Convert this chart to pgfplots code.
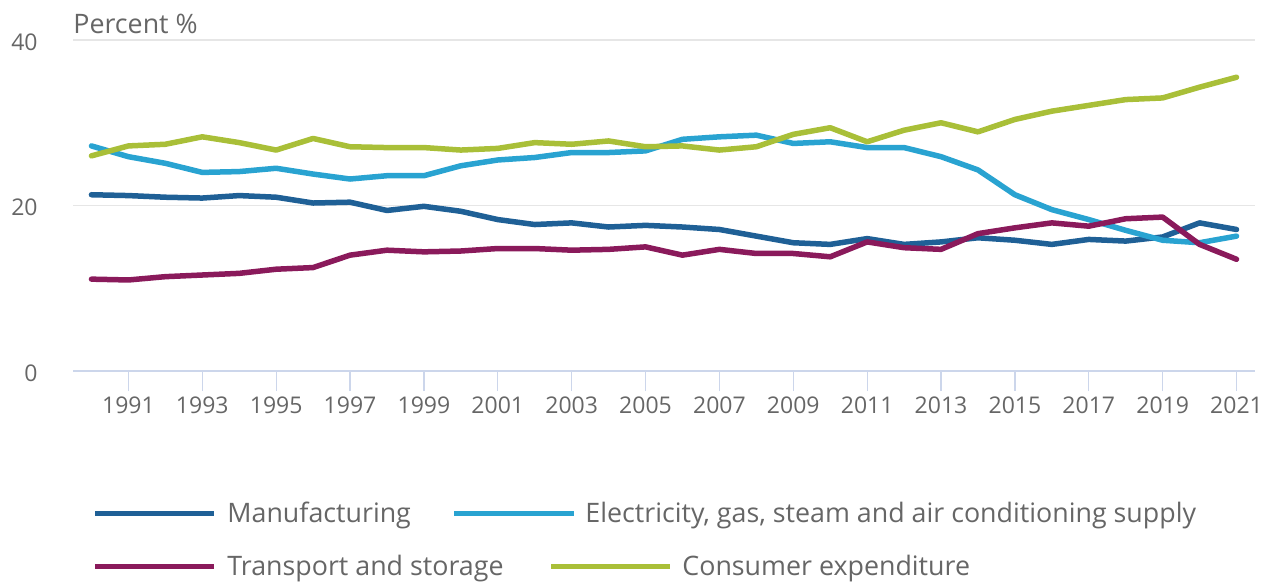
\documentclass[border=0pt]{standalone}
\usepackage{fontspec}
\setmainfont{Open Sans}
\usepackage{pgfplots}
\pgfplotsset{compat=1.18}
\definecolor{manu}{HTML}{1F6096}
\definecolor{elec}{HTML}{29A3D1}
\definecolor{trans}{HTML}{8A1A5B}
\definecolor{cons}{HTML}{A9BF38}
\definecolor{txtgrey}{HTML}{666666}
\definecolor{gridgrey}{HTML}{E6E6E6}
\definecolor{axisblue}{HTML}{CCD6EB}
\begin{document}
\begin{tikzpicture}
\useasboundingbox (0,0) rectangle (634pt,-291pt);
\begin{axis}[
  at={(36.5pt,-185.5pt)}, anchor=south west,
  scale only axis, width=591pt, height=165.5pt,
  xmin=1989.5, xmax=2021.5, ymin=0, ymax=40,
  ytick={0,20,40}, xtick={1991,1993,...,2021},
  /pgf/number format/assume math mode=true,
  /pgf/number format/1000 sep={},
  axis x line*=bottom, axis y line*=left,
  y axis line style={draw=none},
  x axis line style={draw=axisblue, line width=0.8pt},
  ytick style={draw=none},
  xtick style={draw=axisblue, line width=0.6pt},
  major tick length=10pt, tick align=outside,
  ymajorgrids, grid style={draw=gridgrey, line width=0.6pt},
  ticklabel style={font=\fontsize{11.5}{13}\selectfont, text=txtgrey},
  yticklabel style={anchor=east, inner sep=0pt, xshift=-7.5pt, yshift=-1pt},
  xticklabel style={inner sep=0pt, yshift=-2.5pt},
  every axis plot/.append style={line width=2.75pt, line join=round, line cap=round, mark=none},
  clip=false,
]
\addplot[manu] coordinates {(1990,21.3)(1991,21.2)(1992,21.0)(1993,20.9)(1994,21.2)(1995,21.0)(1996,20.3)(1997,20.4)(1998,19.4)(1999,19.9)(2000,19.3)(2001,18.3)(2002,17.7)(2003,17.9)(2004,17.4)(2005,17.6)(2006,17.4)(2007,17.1)(2008,16.3)(2009,15.5)(2010,15.3)(2011,16.0)(2012,15.3)(2013,15.6)(2014,16.1)(2015,15.8)(2016,15.3)(2017,15.9)(2018,15.7)(2019,16.2)(2020,17.9)(2021,17.1)};
\addplot[elec] coordinates {(1990,27.2)(1991,25.9)(1992,25.1)(1993,24.0)(1994,24.1)(1995,24.5)(1996,23.8)(1997,23.2)(1998,23.6)(1999,23.6)(2000,24.8)(2001,25.5)(2002,25.8)(2003,26.4)(2004,26.4)(2005,26.6)(2006,28.0)(2007,28.3)(2008,28.5)(2009,27.5)(2010,27.7)(2011,27.0)(2012,27.0)(2013,25.9)(2014,24.3)(2015,21.3)(2016,19.5)(2017,18.3)(2018,17.0)(2019,15.8)(2020,15.5)(2021,16.3)};
\addplot[trans] coordinates {(1990,11.1)(1991,11.0)(1992,11.4)(1993,11.6)(1994,11.8)(1995,12.3)(1996,12.5)(1997,14.0)(1998,14.6)(1999,14.4)(2000,14.5)(2001,14.8)(2002,14.8)(2003,14.6)(2004,14.7)(2005,15.0)(2006,14.0)(2007,14.7)(2008,14.2)(2009,14.2)(2010,13.8)(2011,15.6)(2012,14.9)(2013,14.7)(2014,16.6)(2015,17.3)(2016,17.9)(2017,17.5)(2018,18.4)(2019,18.6)(2020,15.3)(2021,13.5)};
\addplot[cons] coordinates {(1990,26.0)(1991,27.2)(1992,27.4)(1993,28.3)(1994,27.6)(1995,26.7)(1996,28.1)(1997,27.1)(1998,27.0)(1999,27.0)(2000,26.7)(2001,26.9)(2002,27.6)(2003,27.4)(2004,27.8)(2005,27.1)(2006,27.2)(2007,26.7)(2008,27.1)(2009,28.6)(2010,29.4)(2011,27.7)(2012,29.1)(2013,30.0)(2014,28.9)(2015,30.4)(2016,31.4)(2017,32.1)(2018,32.8)(2019,33.0)(2020,34.3)(2021,35.5)};
\end{axis}
% y axis title
\node[anchor=base west, inner sep=0pt, text=txtgrey, font=\fontsize{13.4}{15}\selectfont] at (36.5pt,-17pt) {Percent \%};
% legend
\begin{scope}[font=\fontsize{13.4}{15}\selectfont]
\draw[manu, line width=2.5pt] (47.5pt,-256.5pt) -- (107pt,-256.5pt);
\node[anchor=base west, inner sep=0pt, text=txtgrey] at (113.5pt,-261.2pt) {Manufacturing};
\draw[elec, line width=2.5pt] (227pt,-256.5pt) -- (287pt,-256.5pt);
\node[anchor=base west, inner sep=0pt, text=txtgrey] at (292.5pt,-261.2pt) {Electricity, gas, steam and air conditioning supply};
\draw[trans, line width=2.5pt] (47.5pt,-283pt) -- (107pt,-283pt);
\node[anchor=base west, inner sep=0pt, text=txtgrey] at (113.5pt,-287.7pt) {Transport and storage};
\draw[cons, line width=2.5pt] (275.5pt,-283pt) -- (335pt,-283pt);
\node[anchor=base west, inner sep=0pt, text=txtgrey] at (341pt,-287.7pt) {Consumer expenditure};
\end{scope}
\end{tikzpicture}
\end{document}
